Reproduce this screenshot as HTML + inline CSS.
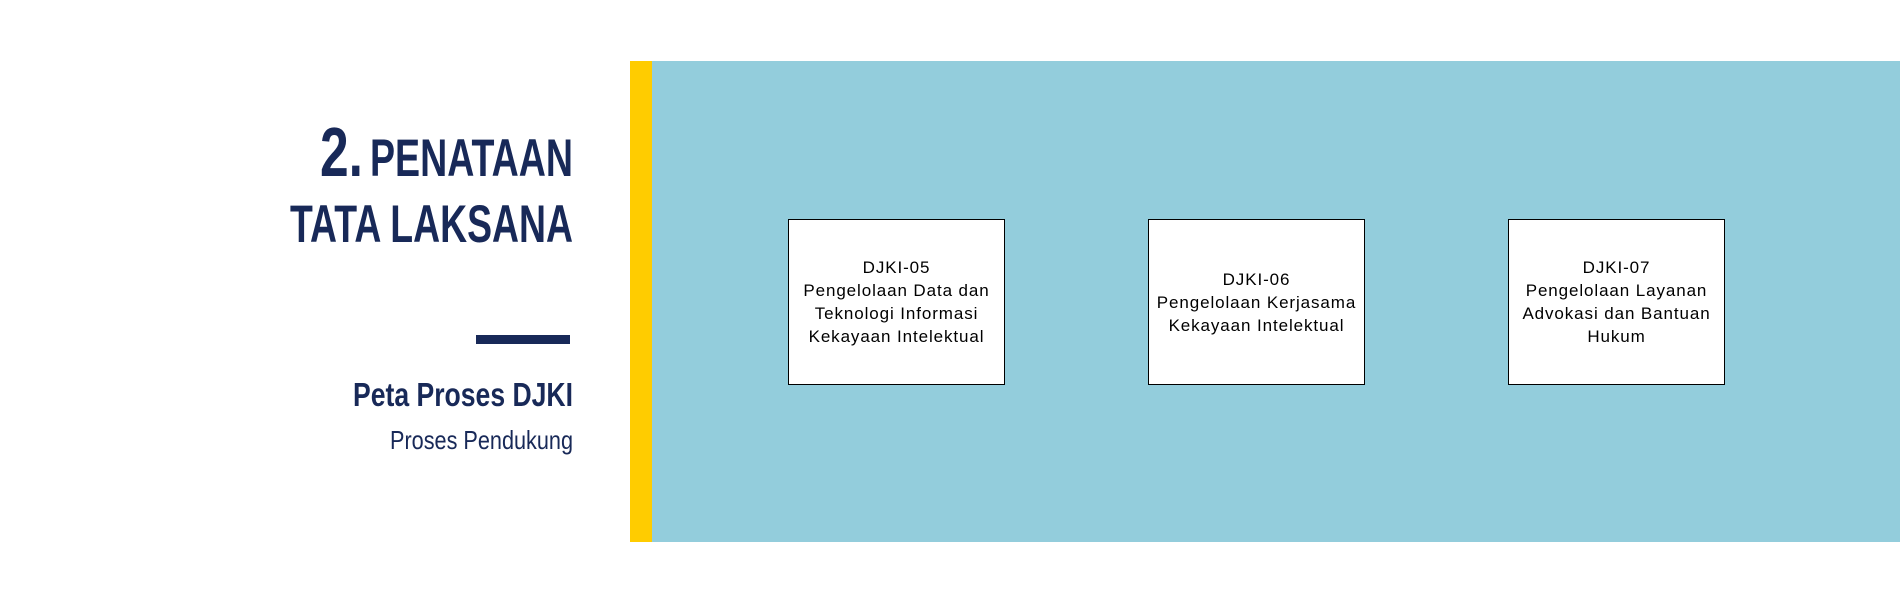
<!DOCTYPE html>
<html><head><meta charset="utf-8"><style>
html,body{margin:0;padding:0;width:1900px;height:600px;background:#fff;overflow:hidden;position:relative;font-family:"Liberation Sans",sans-serif}
.y{position:absolute;left:630px;top:61px;width:22px;height:481px;background:#FFCC00}
.b{position:absolute;left:652px;top:61px;width:1248px;height:481px;background:#93CDDC}
.box{position:absolute;top:219px;width:215px;height:164px;background:#fff;border:1px solid #000;display:flex;align-items:center;justify-content:center;text-align:center;font-size:17px;line-height:23px;letter-spacing:0.9px;color:#000;white-space:nowrap}
</style></head><body>
<div class="y"></div><div class="b"></div>
<svg width="630" height="600" style="position:absolute;left:0;top:0" font-family="'Liberation Sans Narrow','Liberation Sans',sans-serif" fill="#182958">
<text x="320" y="176" font-size="70" font-weight="bold" textLength="43" lengthAdjust="spacingAndGlyphs">2.</text>
<text x="370" y="176" font-size="53" font-weight="bold" textLength="203" lengthAdjust="spacingAndGlyphs">PENATAAN</text>
<text x="290" y="242" font-size="53" font-weight="bold" textLength="283" lengthAdjust="spacingAndGlyphs">TATA LAKSANA</text>
<rect x="476" y="335" width="94" height="9"/>
<text x="353" y="406" font-size="33" font-weight="bold" textLength="220" lengthAdjust="spacingAndGlyphs">Peta Proses DJKI</text>
<text x="390" y="449" font-size="26" textLength="183" lengthAdjust="spacingAndGlyphs">Proses Pendukung</text>
</svg>
<div class="box" style="left:788px"><div>DJKI-05<br>Pengelolaan Data dan<br>Teknologi Informasi<br>Kekayaan Intelektual</div></div>
<div class="box" style="left:1148px"><div>DJKI-06<br>Pengelolaan Kerjasama<br>Kekayaan Intelektual</div></div>
<div class="box" style="left:1508px"><div>DJKI-07<br>Pengelolaan Layanan<br>Advokasi dan Bantuan<br>Hukum</div></div>
</body></html>
